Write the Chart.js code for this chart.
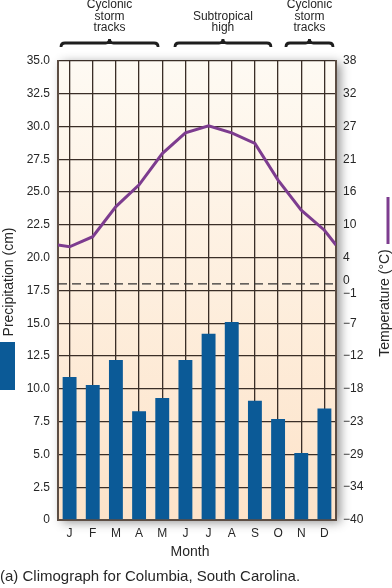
<!DOCTYPE html>
<html>
<head>
<meta charset="utf-8">
<script src="https://cdn.jsdelivr.net/npm/chart.js@4.4.1/dist/chart.umd.min.js"></script>
<style>
  html, body { margin: 0; padding: 0; background: #ffffff; }
  #wrap { width: 392px; height: 588px; position: relative; }
</style>
</head>
<body>
<div id="wrap"><canvas id="climo"></canvas></div>
<script>
const months = ['J', 'F', 'M', 'A', 'M', 'J', 'J', 'A', 'S', 'O', 'N', 'D'];
const precipCm = [10.9, 10.3, 12.2, 8.3, 9.3, 12.2, 14.2, 15.1, 9.1, 7.7, 5.1, 8.5];
const tempC = [6.3, 8.0, 13.1, 16.8, 22.1, 25.6, 26.8, 25.6, 23.8, 17.6, 12.5, 9.1];
const tempEdgeC = [6.6, 6.6];   // where the line meets the left / right frame

// right axis: degrees C at every 10 degrees F, plus freezing
const tempTickValues = [-40, -34.4, -28.9, -23.3, -17.8, -12.2, -6.7, -1.1, 0, 4.4, 10, 15.6, 21.1, 26.7, 32.2, 37.8];
const tempTickLabels = ['\u221240', '\u221234', '\u221229', '\u221223', '\u221218', '\u221212', '\u22127', '\u22121', '0', '4', '10', '16', '21', '27', '32', '38'];

const zoneLabels = [['Cyclonic', 'storm', 'tracks'], ['Subtropical', 'high'], ['Cyclonic', 'storm', 'tracks']];
const zoneSpans = [[-0.37, 3.82], [4.55, 8.69], [9.34, 11.37]];

const FONT = "'Liberation Sans', Arial, Helvetica, sans-serif";
const gridColor = '#3a2e27';
const frameColor = '#5c4d43';
const textColor = '#262626';

// line points on the hidden linear x axis (category centres are 0..11)
const tempPoints = [{ x: -0.5, y: tempEdgeC[0] }]
    .concat(tempC.map((t, i) => ({ x: i, y: t })))
    .concat([{ x: 11.5, y: tempEdgeC[1] }]);
const freezePoints = [{ x: -0.5, y: 0 }, { x: 11.5, y: 0 }];

function drawBrace(ctx, x0, x1, y) {
    const mid = (x0 + x1) / 2;
    ctx.beginPath();
    ctx.moveTo(x0, y + 4);
    ctx.quadraticCurveTo(x0, y, x0 + 4, y);
    ctx.lineTo(mid - 4, y);
    ctx.quadraticCurveTo(mid, y, mid, y - 4);
    ctx.quadraticCurveTo(mid, y, mid + 4, y);
    ctx.lineTo(x1 - 4, y);
    ctx.quadraticCurveTo(x1, y, x1, y + 4);
    ctx.stroke();
}

const decor = {
    id: 'decor',
    beforeDraw(chart) {
        const { ctx, chartArea: a } = chart;
        ctx.save();
        const g = ctx.createLinearGradient(0, a.top, 0, a.bottom);
        g.addColorStop(0, '#fefaf3');
        g.addColorStop(1, '#fde3c9');
        ctx.shadowColor = 'rgba(0,0,0,0.45)';
        ctx.shadowBlur = 10;
        ctx.shadowOffsetX = 4;
        ctx.shadowOffsetY = 2;
        ctx.fillStyle = g;
        ctx.fillRect(a.left, a.top, a.right - a.left, a.bottom - a.top);
        ctx.restore();
    },
    afterDraw(chart) {
        const { ctx } = chart;
        const xs = chart.scales.x;
        ctx.save();
        ctx.fillStyle = textColor;
        ctx.strokeStyle = '#1e1e1e';
        ctx.lineWidth = 2.8;
        ctx.textAlign = 'center';
        ctx.textBaseline = 'middle';
        ctx.font = '12px ' + FONT;

        // climate zone braces along the top
        zoneSpans.forEach((span, k) => {
            const x0 = xs.getPixelForValue(span[0]);
            const x1 = xs.getPixelForValue(span[1]);
            drawBrace(ctx, x0, x1, 43);
            const lines = zoneLabels[k];
            lines.forEach((txt, j) => {
                const y = 28 - (lines.length - 1 - j) * 11.5;
                ctx.fillText(txt, (x0 + x1) / 2, y);
            });
        });

        // axis titles
        ctx.font = '14px ' + FONT;
        ctx.save();
        ctx.translate(9, 282);
        ctx.rotate(-Math.PI / 2);
        ctx.fillText('Precipitation (cm)', 0, 0);
        ctx.restore();

        ctx.save();
        ctx.translate(385, 303);
        ctx.rotate(-Math.PI / 2);
        ctx.fillText('Temperature (\u00b0C)', 0, 0);
        ctx.restore();

        // legend keys next to the titles
        ctx.fillStyle = '#0b5a97';
        ctx.fillRect(0, 342, 15, 48);
        ctx.strokeStyle = '#7d3c8f';
        ctx.lineWidth = 3;
        ctx.beginPath();
        ctx.moveTo(388, 197);
        ctx.lineTo(388, 244);
        ctx.stroke();

        ctx.fillStyle = textColor;
        ctx.fillText('Month', 190, 552);
        ctx.textAlign = 'left';
        ctx.font = '15px ' + FONT;
        ctx.fillText('(a) Climograph for Columbia, South Carolina.', 0, 577);
        ctx.restore();
    }
};

new Chart(document.getElementById('climo'), {
    type: 'bar',
    data: {
        labels: months,
        datasets: [
            {
                type: 'line',
                label: 'Freezing',
                data: freezePoints,
                xAxisID: 'xLine',
                yAxisID: 'y2',
                borderColor: '#333333',
                borderWidth: 1.2,
                borderDash: [9, 5],
                pointRadius: 0,
                order: 1
            },
            {
                type: 'line',
                label: 'Temperature (\u00b0C)',
                data: tempPoints,
                xAxisID: 'xLine',
                yAxisID: 'y2',
                borderColor: '#7d3c8f',
                borderWidth: 3,
                pointRadius: 0,
                tension: 0,
                order: 0
            },
            {
                label: 'Precipitation (cm)',
                data: precipCm,
                xAxisID: 'x',
                yAxisID: 'y',
                backgroundColor: '#0b5a97',
                grouped: false,
                barPercentage: 0.6,
                categoryPercentage: 1.0,
                order: 2
            }
        ]
    },
    options: {
        responsive: true,
        maintainAspectRatio: false,
        animation: false,
        layout: { padding: { top: 61, left: 0, right: 0, bottom: 0 } },
        plugins: {
            legend: { display: false },
            tooltip: { enabled: false }
        },
        scales: {
            x: {
                type: 'category',
                offset: true,
                grid: { offset: false, color: gridColor, lineWidth: 1.3, drawTicks: false },
                border: { display: true, color: frameColor, width: 2 },
                ticks: { color: textColor, font: { family: FONT, size: 12 }, padding: 6 },
                afterFit(scale) { scale.height = 68; }
            },
            xLine: {
                type: 'linear',
                min: -0.5,
                max: 11.5,
                offset: false,
                grid: { offset: false },
                display: false
            },
            y: {
                position: 'left',
                min: 0,
                max: 35,
                grid: { color: gridColor, lineWidth: 1.3, drawTicks: false },
                border: { display: true, color: frameColor, width: 2 },
                ticks: {
                    stepSize: 2.5,
                    color: textColor,
                    font: { family: FONT, size: 12 },
                    padding: 8,
                    callback: v => v === 0 ? '0' : v.toFixed(1)
                },
                afterFit(scale) { scale.width = 58; }
            },
            y2: {
                position: 'right',
                min: -40,
                max: (100 - 32) * 5 / 9,
                grid: { display: false, drawTicks: false },
                border: { display: true, color: frameColor, width: 2 },
                afterBuildTicks(scale) {
                    scale.ticks = tempTickValues.map(v => ({ value: v }));
                },
                ticks: {
                    autoSkip: false,
                    color: textColor,
                    padding: 7,
                    font: ctx => {
                        const lbl = tempTickLabels[ctx.index];
                        const tight = lbl === '0' || lbl === '\u22121';
                        return { family: FONT, size: 12, lineHeight: tight ? 0.6 : 1.2 };
                    },
                    // nudge "0" up and "-1" down so the pair does not overlap
                    callback: (v, i) => {
                        const lbl = tempTickLabels[i];
                        if (lbl === '0') return [lbl, ''];
                        if (lbl === '\u22121') return ['', lbl];
                        return lbl;
                    }
                },
                afterFit(scale) { scale.width = 56; }
            }
        }
    },
    plugins: [decor]
});
</script>
</body>
</html>
